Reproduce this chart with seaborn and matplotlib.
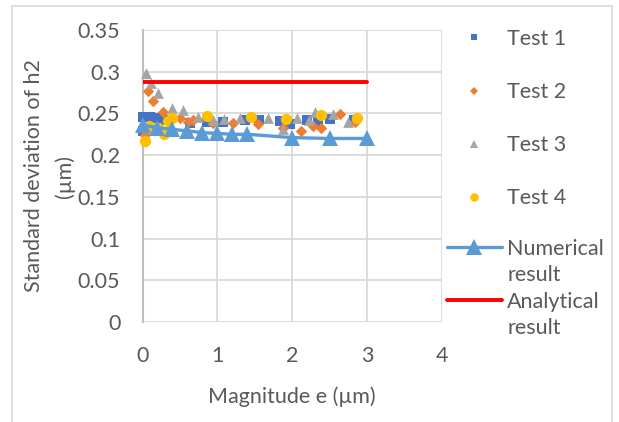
import numpy as np
import pandas as pd
import matplotlib
matplotlib.use('Agg')
import matplotlib.pyplot as plt
import seaborn as sns
from matplotlib.lines import Line2D
from matplotlib.patches import Rectangle

# --- data ---
t1_x = [0.01, 0.01, 0.10, 0.19, 0.32, 0.63, 0.86, 1.08, 1.37, 1.55, 1.83, 1.97, 2.20, 2.35, 2.50, 2.83]
t1_y = [0.229, 0.246, 0.246, 0.244, 0.242, 0.238, 0.240, 0.240, 0.242, 0.242, 0.241, 0.237, 0.242, 0.240, 0.243, 0.242]

t2_x = [0.03, 0.08, 0.14, 0.27, 0.50, 0.61, 0.68, 0.94, 1.21, 1.54, 1.88, 2.12, 2.28, 2.38, 2.64, 2.84]
t2_y = [0.224, 0.277, 0.265, 0.252, 0.244, 0.240, 0.242, 0.238, 0.239, 0.237, 0.233, 0.229, 0.235, 0.232, 0.249, 0.240]

t3_x = [0.05, 0.11, 0.21, 0.40, 0.54, 0.74, 0.94, 1.09, 1.30, 1.67, 1.88, 2.07, 2.22, 2.31, 2.54, 2.75]
t3_y = [0.298, 0.287, 0.274, 0.257, 0.254, 0.246, 0.242, 0.243, 0.244, 0.245, 0.231, 0.245, 0.242, 0.252, 0.249, 0.240]

t4_x = [0.03, 0.09, 0.14, 0.21, 0.29, 0.34, 0.40, 0.86, 1.45, 1.92, 2.38, 2.86]
t4_y = [0.217, 0.235, 0.231, 0.233, 0.225, 0.241, 0.245, 0.247, 0.246, 0.243, 0.248, 0.245]

num_x = [0.0, 0.2, 0.4, 0.6, 0.8, 1.0, 1.2, 1.4, 2.0, 2.5, 3.0]
num_y = [0.236, 0.233, 0.231, 0.229, 0.227, 0.226, 0.225, 0.225, 0.221, 0.220, 0.220]

ana_x = [0.0, 3.0]
ana_y = [0.288, 0.288]

x_ticks = [0, 1, 2, 3, 4]
y_ticks = [0, 0.05, 0.1, 0.15, 0.2, 0.25, 0.3, 0.35]
y_tick_labels = ['0', '0.05', '0.1', '0.15', '0.2', '0.25', '0.3', '0.35']

# --- styling ---
sns.set_style('white')
plt.rcParams['font.family'] = ['Lato', 'DejaVu Sans']
TXT = '#595959'
FS = 15.5

W, H = 619, 422
fig = plt.figure(figsize=(W / 100, H / 100), dpi=100)
ax = fig.add_axes([142.5 / W, 1 - 322 / H, 299.5 / W, 292 / H])

tests = [
    (t1_x, t1_y, 'Test 1', '#4472C4', 's', 42),
    (t2_x, t2_y, 'Test 2', '#ED7D31', 'D', 34),
    (t3_x, t3_y, 'Test 3', '#A5A5A5', '^', 60),
    (t4_x, t4_y, 'Test 4', '#FFC000', 'o', 66),
]
for xs, ys, lab, col, mk, sz in tests:
    df = pd.DataFrame({'x': xs, 'y': ys})
    sns.scatterplot(data=df, x='x', y='y', ax=ax, color=col, marker=mk, s=sz,
                    linewidth=0, label=lab, legend=False, clip_on=False, zorder=3)

num_df = pd.DataFrame({'x': num_x, 'y': num_y})
sns.lineplot(data=num_df, x='x', y='y', ax=ax, color='#5B9BD5', lw=2.4, marker='^',
             markersize=12, markeredgewidth=0, legend=False, zorder=4, clip_on=False)
ana_df = pd.DataFrame({'x': ana_x, 'y': ana_y})
sns.lineplot(data=ana_df, x='x', y='y', ax=ax, color='#FF0000', lw=2.8, legend=False, zorder=4)

ax.set_xlim(0, 4)
ax.set_ylim(0, 0.35)
ax.set_xticks(x_ticks)
ax.set_xticklabels([str(t) for t in x_ticks])
ax.set_yticks(y_ticks)
ax.set_yticklabels(y_tick_labels)
ax.tick_params(axis='both', length=0, labelsize=FS, labelcolor=TXT)
ax.tick_params(axis='y', pad=16)
ax.tick_params(axis='x', pad=17)
ax.grid(True, color='#D9D9D9', lw=1.3)
ax.set_axisbelow(True)
for s in ['top', 'right', 'bottom']:
    ax.spines[s].set_visible(False)
ax.spines['left'].set_color('#BFBFBF')
ax.spines['left'].set_linewidth(1.5)

ax.set_xlabel('Magnitude e (\u00b5m)', fontsize=FS, color=TXT, labelpad=15)
ax.set_ylabel('Standard deviation of h2\n(\u00b5m)', fontsize=FS, color=TXT, linespacing=1.6)
ax.yaxis.label.set_va('center')
ax.yaxis.set_label_coords(-0.31, 0.5)

# legend: test markers
mk_handles = [Line2D([], [], ls='none', marker=mk, color=col, markersize=np.sqrt(sz) * 0.75,
                     markeredgewidth=0) for _, _, _, col, mk, sz in tests]
leg1 = fig.legend(mk_handles, [t[2] for t in tests], loc='upper left',
                  bbox_to_anchor=(447 / W, 1 - 29 / H), frameon=False, fontsize=FS,
                  labelcolor=TXT, handlelength=2.55, handletextpad=0.25,
                  labelspacing=1.54, borderpad=0, borderaxespad=0)
# legend: model lines, each label wrapped on two rows
blank = Line2D([], [], ls='none')
ln_handles = [Line2D([], [], color='#5B9BD5', lw=2.4, marker='^', markersize=11, markeredgewidth=0),
              blank,
              Line2D([], [], color='#FF0000', lw=2.8),
              blank]
leg2 = fig.legend(ln_handles, ['Numerical', 'result', 'Analytical', 'result'], loc='upper left',
                  bbox_to_anchor=(447 / W, 1 - 239 / H), frameon=False, fontsize=FS,
                  labelcolor=TXT, handlelength=2.55, handletextpad=0.25,
                  labelspacing=0.3, borderpad=0, borderaxespad=0)

# chart frame
fig.add_artist(Rectangle((12 / W, -0.05), 600 / W, 1.05 - 6 / H, transform=fig.transFigure,
                         fill=False, edgecolor='#D9D9D9', lw=1.2))

fig.savefig('out.png', dpi=100)
